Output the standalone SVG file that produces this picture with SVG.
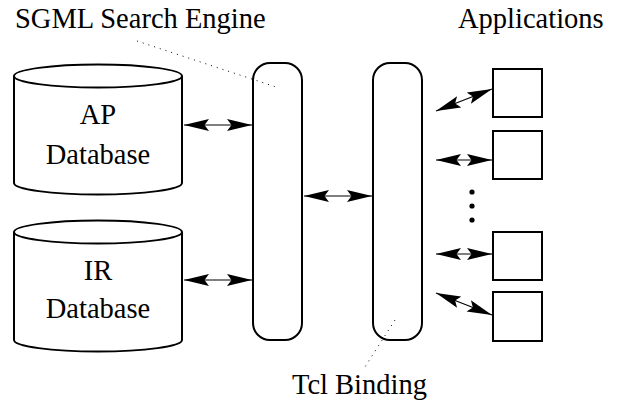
<svg xmlns="http://www.w3.org/2000/svg" width="619" height="402" viewBox="0 0 619 402">
<defs>
<style>
.shape{fill:#fff;stroke:#000;stroke-width:2}
.conn{stroke:#000;stroke-width:1.2;fill:none;marker-start:url(#ah);marker-end:url(#ah)}
.lead{stroke:#000;stroke-width:1;fill:none;stroke-dasharray:1 5}
.t{font-family:'Liberation Serif','Times New Roman',serif;font-size:28.5px;fill:#000}
.c{text-anchor:middle}
</style>
<marker id="ah" viewBox="0 0 25 13" refX="25" refY="6.5" markerWidth="25" markerHeight="13" markerUnits="userSpaceOnUse" orient="auto-start-reverse">
<path d="M25,6.5 L0,0.5 L4.5,6.5 L0,12.5 Z" fill="#000"/>
</marker>
</defs>
<rect width="619" height="402" fill="#fff"/>
<g id="ap-db">
<path class="shape" d="M14,76 L14,183 A84,11.5 0 0 0 182,183 L182,76"/>
<ellipse class="shape" cx="98" cy="76" rx="84" ry="11.5"/>
<text class="t c" x="98" y="124">AP</text>
<text class="t c" x="98" y="164">Database</text>
</g>
<g id="ir-db">
<path class="shape" d="M14,232 L14,340 A84,11.5 0 0 0 182,340 L182,232"/>
<ellipse class="shape" cx="98" cy="232" rx="84" ry="11.5"/>
<text class="t c" x="98" y="280">IR</text>
<text class="t c" x="98" y="318">Database</text>
</g>
<g id="search-engine">
<rect class="shape" x="253" y="63" width="49" height="277" rx="17" ry="17"/>
</g>
<g id="tcl-binding">
<rect class="shape" x="373" y="63" width="49" height="277" rx="17" ry="17"/>
</g>
<g id="app1"><rect class="shape" x="493" y="69" width="49" height="48"/></g>
<g id="app2"><rect class="shape" x="493" y="131" width="49" height="48"/></g>
<g id="app3"><rect class="shape" x="493" y="232" width="49" height="48"/></g>
<g id="app4"><rect class="shape" x="493" y="292" width="49" height="49"/></g>
<g id="ellipsis">
<circle cx="472" cy="192" r="2.6"/>
<circle cx="472" cy="206" r="2.6"/>
<circle cx="472" cy="220" r="2.6"/>
</g>
<g id="labels">
<text class="t" x="15" y="28">SGML Search Engine</text>
<text class="t" x="458" y="28">Applications</text>
<text class="t" x="292" y="394">Tcl Binding</text>
</g>
<g id="connectors">
<line class="conn" x1="184" y1="125" x2="252" y2="125"/>
<line class="conn" x1="184" y1="280" x2="252" y2="280"/>
<line class="conn" x1="304" y1="196" x2="372" y2="196"/>
<line class="conn" x1="436" y1="111" x2="492" y2="89"/>
<line class="conn" x1="436" y1="160" x2="492" y2="160"/>
<line class="conn" x1="436" y1="254" x2="492" y2="254"/>
<line class="conn" x1="436" y1="293" x2="492" y2="315"/>
<line class="lead" x1="137" y1="41" x2="276" y2="87"/>
<line class="lead" x1="395" y1="320" x2="363" y2="370"/>
</g>
</svg>
